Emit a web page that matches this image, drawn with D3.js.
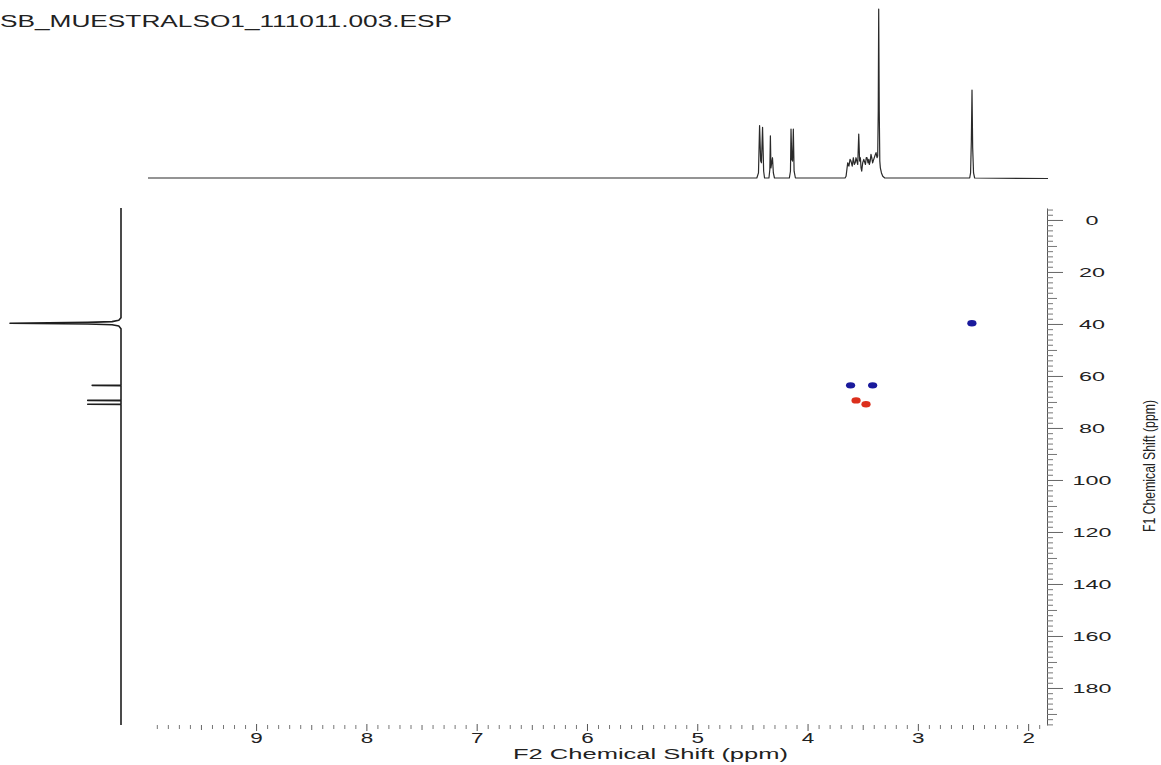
<!DOCTYPE html>
<html>
<head>
<meta charset="utf-8">
<script src="https://cdn.jsdelivr.net/npm/d3@7"></script>
<style>
  body { margin: 0; background: #fff; }
  svg { display: block; }
  text { font-family: "Liberation Sans", Arial, sans-serif; fill: #222; }
</style>
</head>
<body>
<svg id="chart" width="1161" height="765"></svg>
<script>
// ---- Spectrum data ----
const fileName = "SB_MUESTRALSO1_111011.003.ESP";
const f2Title = "F2 Chemical Shift (ppm)";
const f1Title = "F1 Chemical Shift (ppm)";
const f2TickLabels = [9, 8, 7, 6, 5, 4, 3, 2];
const f1TickLabels = [0, 20, 40, 60, 80, 100, 120, 140, 160, 180];

// 1H projection (F2): [ppm, relative intensity]
const protonTrace = [
  [9.98, 0], [4.46, 0], [4.445, 3], [4.435, 31], [4.425, 10], [4.418, 9], [4.408, 30],
  [4.398, 4], [4.39, 0], [4.35, 0], [4.342, 5], [4.337, 25], [4.332, 6], [4.318, 12],
  [4.31, 3], [4.30, 0], [4.165, 0], [4.155, 4], [4.150, 29], [4.143, 11], [4.136, 10],
  [4.129, 29], [4.122, 4], [4.11, 0], [3.66, 0], [3.651, 1], [3.636, 9], [3.625, 7],
  [3.615, 11], [3.606, 10], [3.595, 7], [3.585, 12], [3.576, 8], [3.568, 9], [3.561, 12],
  [3.545, 8], [3.536, 26], [3.528, 10], [3.521, 12], [3.515, 6], [3.509, 4], [3.50, 9],
  [3.49, 11], [3.485, 10], [3.475, 8], [3.468, 12], [3.461, 12], [3.452, 9], [3.445, 11],
  [3.44, 8], [3.432, 10], [3.425, 14], [3.418, 12], [3.41, 9], [3.40, 11], [3.39, 13],
  [3.379, 15], [3.37, 12], [3.364, 13], [3.359, 40], [3.355, 100], [3.350, 40],
  [3.345, 10], [3.34, 6], [3.33, 3], [3.318, 1], [3.30, 0], [2.53, 0], [2.522, 3],
  [2.515, 22], [2.509, 52], [2.503, 18], [2.495, 3], [2.485, 0], [1.82, -0.3]
];

// 13C projection (F1): [ppm, relative intensity]
const carbonTrace = [
  [-4.6, 0], [37.6, 0], [38.6, 2], [39.1, 8], [39.4, 30], [39.7, 100], [40.0, 30],
  [40.3, 8], [40.8, 2], [41.8, 0], [63.5, 0], [63.6, 26], [63.7, 0], [69.3, 0],
  [69.4, 30], [69.5, 0], [70.8, 0], [70.9, 30], [71.0, 0], [194.2, 0]
];

// HSQC cross peaks
const crossF2 = [2.51, 3.61, 3.41, 3.56, 3.47];
const crossF1 = [39.7, 63.6, 63.6, 69.4, 70.9];
const crossPhase = ["pos", "pos", "pos", "neg", "neg"];

// ---- Scales ----
const svg = d3.select("#chart");
const x = d3.scaleLinear().domain([9.98, 1.82]).range([148, 1048]);
const y = d3.scaleLinear().domain([-4.6, 194.2]).range([208, 724.9]);
const topInt = d3.scaleLinear().domain([0, 100]).range([178, 9]);
const leftInt = d3.scaleLinear().domain([0, 100]).range([121, 10]);
const phaseColor = d3.scaleOrdinal().domain(["pos", "neg"]).range(["#1a1a9c", "#dc2f1c"]);

// ---- File name ----
svg.append("text")
  .attr("x", 0).attr("y", 27)
  .attr("font-size", 16)
  .attr("textLength", 452)
  .attr("lengthAdjust", "spacingAndGlyphs")
  .text(fileName);

// ---- 1H projection ----
svg.append("path")
  .datum(protonTrace)
  .attr("fill", "none")
  .attr("stroke", "#2a2a2a")
  .attr("stroke-width", 1.2)
  .attr("stroke-linejoin", "round")
  .attr("d", d3.line().x(d => x(d[0])).y(d => topInt(d[1])));

// ---- 13C projection ----
svg.append("path")
  .datum(carbonTrace)
  .attr("fill", "none")
  .attr("stroke", "#1e1e1e")
  .attr("stroke-width", 1.6)
  .attr("stroke-linejoin", "round")
  .attr("d", d3.line().x(d => leftInt(d[1])).y(d => y(d[0])));

// ---- Cross peaks ----
svg.append("g")
  .selectAll("ellipse")
  .data(crossF2.map((f2, i) => ({ f2, f1: crossF1[i], phase: crossPhase[i] })))
  .join("ellipse")
  .attr("cx", d => x(d.f2))
  .attr("cy", d => y(d.f1))
  .attr("rx", 4.6)
  .attr("ry", 3.2)
  .attr("fill", d => phaseColor(d.phase));

// ---- F2 axis (bottom) ----
const f2Minor = d3.range(99, 18, -1).map(v => v / 10).filter(v => Math.abs(v * 2 - Math.round(v * 2)) > 1e-6);
const f2Half = d3.range(95, 18, -10).map(v => v / 10);
const axisY = 725;

function styleTicks(g, color) {
  g.select(".domain").remove();
  g.selectAll(".tick line").attr("stroke", color);
}

svg.append("g").attr("transform", `translate(0,${axisY})`)
  .call(d3.axisBottom(x).tickValues(f2Minor).tickSize(4).tickFormat(""))
  .call(g => styleTicks(g, "#777"));
svg.append("g").attr("transform", `translate(0,${axisY})`)
  .call(d3.axisBottom(x).tickValues(f2Half).tickSize(5).tickFormat(""))
  .call(g => styleTicks(g, "#666"));
svg.append("g").attr("transform", `translate(0,${axisY - 1})`)
  .call(d3.axisBottom(x).tickValues(f2TickLabels).tickSize(7).tickPadding(2).tickFormat(d3.format("d")))
  .call(g => styleTicks(g, "#555"))
  .call(g => g.selectAll(".tick text")
    .attr("font-size", 14)
    .attr("fill", "#222")
    .attr("textLength", 12.5)
    .attr("lengthAdjust", "spacingAndGlyphs")
    .style("font-family", "'Liberation Sans', Arial, sans-serif"));

svg.append("text")
  .attr("x", 513).attr("y", 759)
  .attr("font-size", 14)
  .attr("textLength", 275)
  .attr("lengthAdjust", "spacingAndGlyphs")
  .text(f2Title);

// ---- F1 axis (right) ----
const axisX = 1047;
const f1Minor = d3.range(-4, 195, 2).filter(v => v % 10 !== 0);
const f1Ten = d3.range(10, 195, 20);
svg.append("g").attr("transform", `translate(${axisX},0)`)
  .call(d3.axisRight(y).tickValues(f1Minor).tickSize(6).tickSizeOuter(0).tickFormat(""))
  .call(g => g.select(".domain").attr("stroke", "#555"))
  .call(g => g.selectAll(".tick line").attr("stroke", "#777"));
svg.append("g").attr("transform", `translate(${axisX},0)`)
  .call(d3.axisRight(y).tickValues(f1Ten).tickSize(10).tickFormat(""))
  .call(g => styleTicks(g, "#777"));
svg.append("g").attr("transform", `translate(${axisX},0)`)
  .call(d3.axisRight(y).tickValues(f1TickLabels).tickSize(16).tickFormat(d3.format("d")))
  .call(g => styleTicks(g, "#666"))
  .call(g => g.selectAll(".tick text")
    .attr("x", 45)
    .attr("text-anchor", "middle")
    .attr("font-size", 13)
    .attr("fill", "#222")
    .attr("textLength", d => String(d).length * 13)
    .attr("lengthAdjust", "spacingAndGlyphs")
    .style("font-family", "'Liberation Sans', Arial, sans-serif"));

svg.append("text")
  .attr("transform", "translate(1155,466) rotate(-90)")
  .attr("text-anchor", "middle")
  .attr("font-size", 16)
  .attr("textLength", 132)
  .attr("lengthAdjust", "spacingAndGlyphs")
  .text(f1Title);
</script>
</body>
</html>
